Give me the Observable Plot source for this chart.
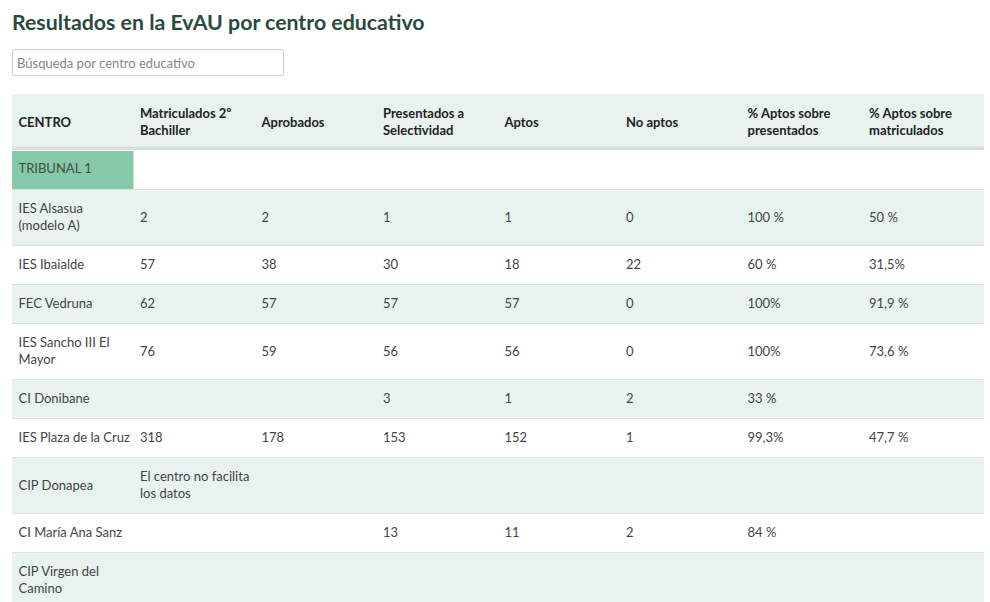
<!DOCTYPE html>
<html><head><meta charset="utf-8">
<script src="https://cdn.jsdelivr.net/npm/d3@7"></script>
<script src="https://cdn.jsdelivr.net/npm/@observablehq/plot@0.6"></script>
<style>
html,body{margin:0;padding:0;background:#fff;width:990px;height:602px;overflow:hidden;font-family:Lato,sans-serif;}
h1{position:absolute;left:12px;top:7px;margin:0;font-size:21.3px;font-weight:700;color:#2b4a3e;line-height:30px;}
input{position:absolute;left:12px;top:49px;width:272px;height:27px;box-sizing:border-box;border:1px solid #cfcfcf;border-radius:2px;padding:0 0 0 4px;font-family:Lato,sans-serif;font-size:13px;color:#333;}
input::placeholder{color:#888;}
#chart{position:absolute;left:0;top:94px;}
</style></head><body>
<h1>Resultados en la EvAU por centro educativo</h1>
<input type="text" placeholder="Búsqueda por centro educativo">
<div id="chart"></div>
<script>
const columnas = ["CENTRO", "Matriculados 2º\nBachiller", "Aprobados", "Presentados a\nSelectividad", "Aptos", "No aptos", "% Aptos sobre\npresentados", "% Aptos sobre\nmatriculados"];
const tribunal = "TRIBUNAL 1";
const centros = ["IES Alsasua\n(modelo A)", "IES Ibaialde", "FEC Vedruna", "IES Sancho III El\nMayor", "CI Donibane", "IES Plaza de la Cruz", "CIP Donapea", "CI María Ana Sanz", "CIP Virgen del\nCamino"];
const matriculados = [2, 57, 62, 76, null, 318, "El centro no facilita\nlos datos", null, null];
const aprobados = [2, 38, 57, 59, null, 178, null, null, null];
const presentados = [1, 30, 57, 56, 3, 153, null, 13, null];
const aptos = [1, 18, 57, 56, 1, 152, null, 11, null];
const noAptos = [0, 22, 0, 0, 2, 1, null, 2, null];
const pctPresentados = ["100 %", "60 %", "100%", "100%", "33 %", "99,3%", null, "84 %", null];
const pctMatriculados = ["50 %", "31,5%", "91,9 %", "73,6 %", null, "47,7 %", null, null, null];

const ONE = 39, TWO = 56;
const nLines = v => v == null ? 0 : String(v).split("\n").length;
const rowH = vals => Math.max(...vals.map(nLines)) > 1 ? TWO : ONE;

const rows = [];
const cells = [];
let yy = 0;
// header
{
  const h = rowH(columnas);
  rows.push({kind: "header", y1: yy, y2: yy + h, c1: 0, c2: 8});
  columnas.forEach((t, i) => cells.push({kind: "header", c: i, ym: yy + h / 2, text: t}));
  yy += h;
}
// tribunal group row
rows.push({kind: "tribunal", y1: yy, y2: yy + ONE, c1: 0, c2: 8});
cells.push({kind: "tribunal", c: 0, ym: yy + ONE / 2, text: tribunal, y1: yy + 1, y2: yy + ONE, c1: 0, c2: 1});
yy += ONE;
// body
centros.forEach((name, i) => {
  const vals = [name, matriculados[i], aprobados[i], presentados[i], aptos[i], noAptos[i], pctPresentados[i], pctMatriculados[i]];
  const h = rowH(vals);
  rows.push({kind: i % 2 === 0 ? "shade" : "plain", y1: yy, y2: yy + h, c1: 0, c2: 8});
  vals.forEach((v, c) => { if (v != null) cells.push({kind: "body", c, ym: yy + h / 2, text: String(v)}); });
  yy += h;
});
const H = yy;

const shadeCol = "#e8f2ee";
const plot = Plot.plot({
  width: 990, height: H,
  marginTop: 0, marginBottom: 0, marginLeft: 0, marginRight: 0,
  x: {domain: [0, 8], range: [12, 984], axis: null},
  y: {domain: [0, H], range: [0, H], axis: null},
  style: {fontFamily: "Lato, sans-serif", fontSize: "13px", background: "transparent", overflow: "visible"},
  marks: [
    Plot.rect(rows.filter(d => d.kind === "header" || d.kind === "shade"), {x1: "c1", x2: "c2", y1: "y1", y2: "y2", fill: shadeCol}),
    Plot.rect(cells.filter(d => d.kind === "tribunal"), {x1: "c1", x2: "c2", y1: "y1", y2: "y2", fill: "#86c8a8"}),
    Plot.ruleY(rows.filter(d => d.kind !== "header"), {y: "y2", x1: "c1", x2: "c2", stroke: "#dce2df", strokeWidth: 1}),
    Plot.rect(rows.filter(d => d.kind === "header"), {x1: "c1", x2: "c2", y1: d => d.y2 - 3.5, y2: "y2", fill: "#d9dfdc"}),
    Plot.text(cells.filter(d => d.kind === "header"), {x: "c", y: "ym", text: "text", textAnchor: "start", dx: 6, dy: -1, lineAnchor: "middle", lineHeight: 1.3, fill: "#222", fontWeight: "bold"}),
    Plot.text(cells.filter(d => d.kind === "tribunal"), {x: "c", y: "ym", text: "text", textAnchor: "start", dx: 6, dy: -1, lineAnchor: "middle", fill: "#3d4f47"}),
    Plot.text(cells.filter(d => d.kind === "body"), {x: "c", y: "ym", text: "text", textAnchor: "start", dx: 6, dy: -1, lineAnchor: "middle", lineHeight: 1.3, fill: "#444"})
  ]
});
document.getElementById("chart").appendChild(plot);
</script></body></html>
